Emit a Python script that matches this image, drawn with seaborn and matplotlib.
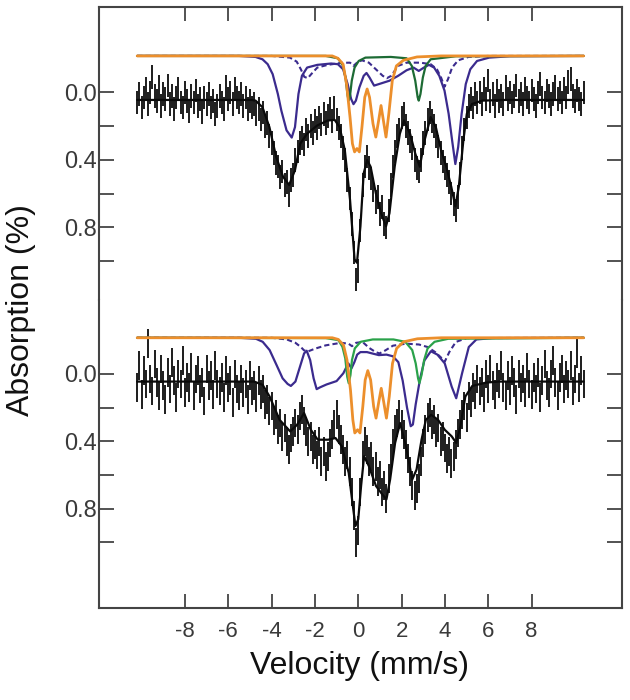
import numpy as np
import matplotlib
matplotlib.use("Agg")
import matplotlib.pyplot as plt
import seaborn as sns

sns.set_style("white")
plt.rcParams['font.family'] = ['Liberation Sans', 'DejaVu Sans']
plt.rcParams['axes.unicode_minus'] = False

# velocity channels (mm/s)
vel = np.round(np.arange(207) * 0.1 - 10.2, 1)

# measured absorption, upper spectrum
top_data = [
    0.06, 0.01, 0.09, 0.03, -0.02, 0.07, 0.00, -0.09, 0.02, 0.05,
    -0.03, 0.08, 0.01, 0.04, -0.04, 0.07, 0.02, 0.10, 0.03, -0.02,
    0.06, 0.09, 0.00, 0.05, 0.11, 0.02, 0.06, -0.01, 0.08, 0.04,
    0.12, 0.03, 0.07, 0.01, 0.09, 0.05, 0.13, 0.08, 0.02, 0.06,
    0.10, -0.03, 0.04, 0.00, 0.07, -0.02, 0.03, 0.06, 0.01, 0.08,
    0.03, 0.10, 0.05, 0.09, 0.07, 0.13, 0.10, 0.16, 0.12, 0.20,
    0.18, 0.26, 0.30, 0.36, 0.42, 0.44, 0.50, 0.47, 0.55, 0.53,
    0.61, 0.52, 0.49, 0.40, 0.35, 0.30, 0.27, 0.31, 0.22, 0.26,
    0.20, 0.24, 0.17, 0.21, 0.15, 0.19, 0.13, 0.18, 0.14, 0.10,
    0.17, 0.09, 0.16, 0.21, 0.26, 0.33, 0.40, 0.52, 0.63, 0.78,
    0.95, 1.11, 1.06, 0.82, 0.55, 0.44, 0.38, 0.45, 0.51, 0.58,
    0.65, 0.62, 0.72, 0.68, 0.78, 0.80, 0.70, 0.55, 0.44, 0.35,
    0.26, 0.22, 0.15, 0.13, 0.20, 0.24, 0.29, 0.33, 0.40, 0.45,
    0.47, 0.40, 0.30, 0.24, 0.16, 0.12, 0.17, 0.20, 0.26, 0.32,
    0.36, 0.41, 0.45, 0.49, 0.53, 0.60, 0.66, 0.70, 0.62, 0.48,
    0.33, 0.22, 0.15, 0.08, 0.04, 0.09, 0.01, 0.06, 0.00, 0.07,
    -0.02, 0.04, -0.07, 0.05, 0.01, 0.08, -0.01, 0.05, 0.02, 0.07,
    -0.03, 0.04, 0.00, 0.06, 0.02, -0.04, 0.05, 0.01, 0.07, -0.02,
    0.03, 0.06, -0.01, 0.04, 0.08, 0.00, -0.05, 0.03, 0.06, -0.01,
    0.02, 0.07, 0.01, -0.03, 0.04, 0.00, 0.06, -0.02, 0.03, -0.06,
    -0.08, 0.02, 0.05, -0.01, 0.04, 0.07, 0.00,
]
top_err = 0.07

# measured absorption, lower spectrum
bot_data = [
    0.08, -0.05, 0.12, -0.02, 0.06, -0.18, 0.03, 0.10, -0.06, 0.05,
    0.13, -0.03, 0.07, 0.15, -0.01, 0.09, -0.07, 0.04, 0.14, 0.00,
    0.06, -0.08, 0.11, 0.02, 0.08, -0.04, 0.13, 0.03, -0.02, 0.09,
    0.05, 0.16, -0.03, 0.07, 0.01, 0.12, -0.05, 0.06, 0.10, 0.02,
    0.14, -0.02, 0.08, 0.04, 0.17, 0.00, 0.09, 0.13, 0.03, 0.11,
    0.06, 0.15, 0.01, 0.10, 0.07, 0.14, 0.04, 0.12, 0.09, 0.18,
    0.15, 0.22, 0.19, 0.28, 0.24, 0.33, 0.29, 0.37, 0.32, 0.40,
    0.45, 0.38, 0.34, 0.29, 0.33, 0.25, 0.21, 0.28, 0.34, 0.40,
    0.37, 0.45, 0.42, 0.48, 0.40, 0.52, 0.46, 0.55, 0.49, 0.41,
    0.36, 0.30, 0.24, 0.33, 0.39, 0.45, 0.52, 0.48, 0.58, 0.70,
    0.84, 1.00, 0.93, 0.70, 0.48, 0.40, 0.45, 0.52, 0.49, 0.58,
    0.55, 0.64, 0.60, 0.70, 0.66, 0.74, 0.62, 0.50, 0.41, 0.33,
    0.29, 0.24, 0.30, 0.36, 0.42, 0.50, 0.58, 0.66, 0.72, 0.68,
    0.62, 0.52, 0.41, 0.33, 0.26, 0.23, 0.30, 0.27, 0.35, 0.32,
    0.40, 0.37, 0.44, 0.50, 0.46, 0.53, 0.49, 0.42, 0.35, 0.30,
    0.24, 0.19, 0.26, 0.13, 0.17, 0.08, 0.12, 0.03, 0.10, 0.05,
    0.14, 0.00, 0.09, -0.03, 0.07, 0.12, 0.02, 0.06, -0.05, 0.08,
    0.13, 0.01, 0.10, -0.02, 0.05, 0.15, 0.00, 0.08, 0.03, 0.11,
    -0.04, 0.06, 0.12, 0.02, 0.09, -0.01, 0.14, 0.04, -0.06, 0.07,
    0.11, 0.00, -0.08, 0.05, 0.13, 0.02, -0.03, 0.09, 0.01, 0.06,
    -0.05, 0.10, 0.03, -0.12, 0.08, -0.02, 0.06,
]
bot_err = 0.085

# fitted envelope and sub-spectra, upper spectrum (read at knots)
top_fit_x = [-10.2, -4.90, -4.74, -4.42, -4.10, -3.79, -3.47, -3.19, -2.92, -2.68, -2.36, -1.89,
             -1.41, -1.09, -0.86, -0.62, -0.38, -0.17, -0.06, 0.10, 0.25, 0.41, 0.57, 0.81, 1.05,
             1.28, 1.44, 1.68, 1.92, 2.11, 2.39, 2.63, 2.84, 3.06, 3.34, 3.58, 3.82, 4.06, 4.29,
             4.48, 4.64, 4.85, 5.01, 5.25, 5.72, 6.67, 10.4]
top_fit_y = [0.045, 0.045, 0.049, 0.088, 0.206, 0.382, 0.500, 0.549, 0.461, 0.304, 0.245, 0.196,
             0.167, 0.163, 0.206, 0.343, 0.637, 0.990, 1.010, 0.794, 0.480, 0.402, 0.441, 0.598, 0.716,
             0.794, 0.716, 0.441, 0.245, 0.167, 0.245, 0.363, 0.441, 0.284, 0.147, 0.206, 0.343, 0.441, 0.559,
             0.676, 0.559, 0.284, 0.127, 0.069, 0.049, 0.045, 0.045]

top_orange_x = [-10.2, -1.2, -0.94, -0.70, -0.54, -0.38, -0.27, -0.17, -0.06, 0.05, 0.17, 0.30, 0.41,
                0.52, 0.68, 0.81, 0.94, 1.05, 1.16, 1.28, 1.41, 1.57, 1.76, 2.08, 2.71, 3.82, 10.4]
top_orange_y = [-0.216, -0.216, -0.202, -0.167, -0.049, 0.147, 0.304, 0.353, 0.333, 0.353, 0.206, 0.029, -0.020,
                0.029, 0.186, 0.265, 0.167, 0.078, 0.167, 0.265, 0.127, -0.069, -0.157, -0.190, -0.210, -0.216, -0.216]

top_green_x = [-10.2, -1.5, -0.94, -0.70, -0.59, -0.49, -0.44, -0.38, -0.30, -0.17, 0.02, 0.33, 1.5,
               2.23, 2.47, 2.63, 2.74, 2.79, 2.87, 2.98, 3.11, 3.34, 4.5, 10.4]
top_green_y = [-0.216, -0.216, -0.202, -0.157, -0.088, 0.020, 0.049, 0.020, -0.069, -0.147, -0.186, -0.206, -0.210,
               -0.202, -0.157, -0.069, 0.029, 0.049, 0.010, -0.088, -0.157, -0.196, -0.214, -0.216]

top_blue_x = [-10.2, -5.5, -4.74, -4.42, -4.18, -3.95, -3.71, -3.55, -3.31, -3.07, -2.92, -2.76, -2.60,
              -2.36, -1.89, -1.25, -0.94, -0.70, -0.49, -0.33, -0.22, -0.11, 0.05, 0.25, 0.38, 0.52,
              0.73, 1.05, 1.44, 1.84, 2.23, 2.55, 2.79, 3.03, 3.26, 3.50, 3.74, 3.98, 4.17, 4.33,
              4.48, 4.61, 4.77, 4.96, 5.17, 5.48, 6.04, 6.99, 10.4]
top_blue_y = [-0.216, -0.216, -0.210, -0.196, -0.167, -0.108, 0.010, 0.108, 0.225, 0.268, 0.206, 0.010, -0.098,
              -0.147, -0.163, -0.171, -0.167, -0.137, -0.049, 0.039, 0.070, 0.049, -0.029, -0.098, -0.115, -0.088,
              -0.040, -0.053, -0.069, -0.098, -0.131, -0.147, -0.127, -0.147, -0.163, -0.147, -0.098, -0.010, 0.127, 0.284,
              0.425, 0.324, 0.127, -0.049, -0.137, -0.186, -0.206, -0.214, -0.216]

top_dash_x = [-10.2, -4.0, -3.15, -2.84, -2.65, -2.49, -2.33, -2.17, -1.89, -1.41, -0.78, -0.38, -0.22,
              -0.06, 0.17, 0.49, 0.81, 1.13, 1.32, 1.52, 1.84, 2.23, 2.87, 3.34, 3.63, 3.82, 3.98,
              4.14, 4.33, 4.61, 5.09, 6.0, 10.4]
top_dash_y = [-0.216, -0.216, -0.206, -0.182, -0.137, -0.092, -0.084, -0.108, -0.147, -0.163, -0.175, -0.176, -0.157,
              -0.176, -0.190, -0.176, -0.137, -0.098, -0.084, -0.098, -0.157, -0.176, -0.176, -0.167, -0.137, -0.088, -0.033,
              -0.078, -0.147, -0.190, -0.210, -0.216, -0.216]

# fitted envelope and sub-spectra, lower spectrum
bot_fit_x = [-10.2, -4.8, -4.41, -4.09, -3.63, -3.14, -2.82, -2.50, -2.19, -1.87, -1.39, -1.05, -0.76,
             -0.44, -0.25, -0.13, 0.00, 0.13, 0.27, 0.49, 0.82, 1.11, 1.30, 1.47, 1.70, 1.93, 2.20,
             2.49, 2.69, 2.92, 3.12, 3.36, 3.68, 3.99, 4.31, 4.52, 4.71, 4.94, 5.26, 5.90, 6.5, 10.4]
bot_fit_y = [0.045, 0.045, 0.065, 0.134, 0.272, 0.341, 0.301, 0.232, 0.331, 0.390, 0.390, 0.380, 0.429,
             0.587, 0.783, 0.902, 0.862, 0.665, 0.488, 0.547, 0.665, 0.715, 0.744, 0.626, 0.409, 0.291, 0.429,
             0.626, 0.567, 0.390, 0.272, 0.242, 0.272, 0.331, 0.370, 0.409, 0.311, 0.134, 0.071, 0.051, 0.045, 0.045]

bot_orange_x = [-10.2, -1.2, -0.92, -0.68, -0.52, -0.36, -0.25, -0.16, -0.03, 0.08, 0.21, 0.32, 0.44,
                0.57, 0.71, 0.82, 0.95, 1.06, 1.17, 1.30, 1.43, 1.58, 1.77, 2.09, 2.73, 3.84, 10.4]
bot_orange_y = [-0.215, -0.215, -0.205, -0.171, -0.083, 0.094, 0.272, 0.350, 0.331, 0.350, 0.193, 0.035, -0.020,
                0.035, 0.193, 0.262, 0.163, 0.085, 0.163, 0.262, 0.134, -0.063, -0.152, -0.191, -0.209, -0.215, -0.215]

bot_green_x = [-10.2, -1.5, -0.92, -0.73, -0.60, -0.51, -0.44, -0.36, -0.29, -0.16, 0.11, 0.67, 1.62,
               2.17, 2.49, 2.65, 2.76, 2.82, 2.92, 3.04, 3.20, 3.52, 4.15, 10.4]
bot_green_y = [-0.215, -0.213, -0.201, -0.161, -0.093, 0.016, 0.055, 0.006, -0.083, -0.152, -0.191, -0.205, -0.205,
               -0.191, -0.142, -0.063, 0.026, 0.055, 0.006, -0.083, -0.152, -0.191, -0.209, -0.215]

bot_blue_x = [-10.2, -5.5, -4.72, -4.41, -4.09, -3.77, -3.49, -3.26, -3.11, -2.90, -2.69, -2.50, -2.38,
              -2.22, -2.06, -1.92, -1.76, -1.46, -1.00, -0.69, -0.46, -0.31, -0.18, -0.05, 0.10, 0.40,
              0.70, 0.95, 1.30, 1.60, 1.85, 2.05, 2.25, 2.42, 2.52, 2.65, 2.85, 3.05, 3.35, 3.65,
              3.99, 4.31, 4.52, 4.79, 5.10, 5.45, 6.2, 10.4]
bot_blue_y = [-0.215, -0.215, -0.209, -0.191, -0.142, -0.053, 0.026, 0.059, 0.071, 0.045, -0.043, -0.122, -0.138,
              -0.083, 0.026, 0.090, 0.079, 0.062, 0.042, -0.004, -0.063, -0.034, -0.070, -0.115, -0.130, -0.130,
              -0.120, -0.112, -0.115, -0.105, -0.070, 0.040, 0.200, 0.310, 0.300, 0.180, 0.030, -0.080, -0.135, -0.115,
              -0.063, 0.075, 0.144, -0.004, -0.160, -0.205, -0.213, -0.215]

bot_dash_x = [-10.2, -4.0, -3.3, -2.9, -2.65, -2.5, -2.3, -2.0, -1.5, -0.8, -0.45, -0.29, -0.1, 0.2,
              0.5, 0.8, 0.98, 1.25, 1.6, 2.2, 2.8, 3.2, 3.55, 3.8, 3.99, 4.2, 4.5, 5.0, 10.4]
bot_dash_y = [-0.215, -0.215, -0.205, -0.185, -0.160, -0.140, -0.135, -0.150, -0.170, -0.185, -0.180, -0.165, -0.185, -0.190,
              -0.155, -0.130, -0.122, -0.140, -0.168, -0.180, -0.175, -0.160, -0.130, -0.100, -0.073, -0.130, -0.190, -0.213, -0.215]

ORANGE = "#ec8f2c"
BLUE = "#3b2b8e"
GREEN_TOP = "#1d6b34"
GREEN_BOT = "#2aa24a"


def draw_panel(ax, data, err, fit, orange, green, blue, dash, green_color):
    data = np.asarray(data)
    ax.vlines(vel, data - err, data + err, color="#1c1c1c", lw=1.4)
    sns.lineplot(x=fit[0], y=fit[1], ax=ax, color="#0a0a0a", lw=1.6, sort=False, estimator=None)
    sns.lineplot(x=dash[0], y=dash[1], ax=ax, color=BLUE, lw=1.5, linestyle=(0, (2.5, 1.5)),
                 sort=False, estimator=None)
    sns.lineplot(x=blue[0], y=blue[1], ax=ax, color=BLUE, lw=1.6, sort=False, estimator=None)
    sns.lineplot(x=green[0], y=green[1], ax=ax, color=green_color, lw=1.6, sort=False, estimator=None)
    sns.lineplot(x=orange[0], y=orange[1], ax=ax, color=ORANGE, lw=2.0, sort=False, estimator=None)

    ax.set_xlim(-11.95, 12.155)
    ax.set_yticks([0.0, 0.2, 0.4, 0.6, 0.8, 1.0])
    ax.set_yticklabels(["0.0", "", "0.4", "", "0.8", ""])
    ax.set_xticks(range(-8, 9, 2))
    ax.tick_params(axis="y", direction="in", length=11, width=1.3, left=True, right=True,
                   labelsize=17, pad=2, labelcolor="#3a3a3a", color="#444444")
    ax.set_xlabel("")
    ax.set_ylabel("")
    for s in ax.spines.values():
        s.set_color("#444444")
        s.set_linewidth(1.5)


fig = plt.figure(figsize=(6.3, 7.0), dpi=100)
ax_top = fig.add_axes([0.1576, 0.5714, 0.8292, 0.4186])
ax_bot = fig.add_axes([0.1576, 0.1314, 0.8292, 0.4400])

draw_panel(ax_top, top_data, top_err, (top_fit_x, top_fit_y), (top_orange_x, top_orange_y),
           (top_green_x, top_green_y), (top_blue_x, top_blue_y), (top_dash_x, top_dash_y), GREEN_TOP)
draw_panel(ax_bot, bot_data, bot_err, (bot_fit_x, bot_fit_y), (bot_orange_x, bot_orange_y),
           (bot_green_x, bot_green_y), (bot_blue_x, bot_blue_y), (bot_dash_x, bot_dash_y), GREEN_BOT)

ax_top.set_ylim(1.231, -0.506)
ax_bot.set_ylim(1.389, -0.439)

ax_top.spines["bottom"].set_visible(False)
ax_bot.spines["top"].set_visible(False)
ax_top.tick_params(axis="x", direction="in", top=True, bottom=False, labeltop=False,
                   labelbottom=False, length=10, width=1.3, color="#444444")
ax_bot.tick_params(axis="x", direction="in", top=False, bottom=True, labelbottom=True,
                   length=10, width=1.3, labelsize=16, pad=9, labelcolor="#3a3a3a", color="#444444")

fig.text(21 / 630, 1 - 310 / 700, "Absorption (%)", rotation=90, ha="center", va="center",
         fontsize=23, color="#111111")
fig.text(360 / 630, 1 - 666 / 700, "Velocity (mm/s)", ha="center", va="center",
         fontsize=23, color="#111111")

fig.savefig("out.png", dpi=100)
